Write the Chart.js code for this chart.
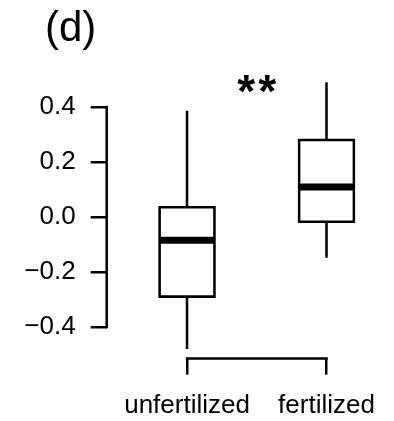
<!DOCTYPE html>
<html lang="en">
<head>
<meta charset="utf-8">
<script src="https://cdn.jsdelivr.net/npm/chart.js@4/dist/chart.umd.min.js"></script>
<style>
  html, body { margin: 0; padding: 0; background: #fff; }
  #wrap { width: 394px; height: 421px; position: relative; }
</style>
</head>
<body>
<div id="wrap"><canvas id="box"></canvas></div>
<script>
// groups and their five-number summaries
var groups = ["unfertilized", "fertilized"];
var groupPos = [1, 2];
var whiskerLow = [-0.480, -0.148];
var q1 = [-0.293, -0.021];
var median = [-0.085, 0.109];
var q3 = [0.039, 0.284];
var whiskerHigh = [0.386, 0.490];

var yTicks = [-0.4, -0.2, 0.0, 0.2, 0.4];
var yTickLabels = ["\u22120.4", "\u22120.2", "0.0", "0.2", "0.4"];
var panelTag = "(d)";
var signif = "**";

var FONT = "'Liberation Sans', Arial, Helvetica, sans-serif";
var BOX_W = 57;

// whiskers, medians, R-style axis lines and the annotations
var rStyle = {
  id: 'rStyle',
  afterDatasetsDraw: function(chart) {
    var ctx = chart.ctx;
    var xs = chart.scales.x, ys = chart.scales.y;
    ctx.save();
    ctx.strokeStyle = '#000';
    ctx.lineCap = 'butt';

    for (var i = 0; i < groups.length; i++) {
      var cx = xs.getPixelForValue(groupPos[i]);
      ctx.lineWidth = 2.5;
      ctx.beginPath();
      ctx.moveTo(cx, ys.getPixelForValue(q3[i]));
      ctx.lineTo(cx, ys.getPixelForValue(whiskerHigh[i]));
      ctx.moveTo(cx, ys.getPixelForValue(q1[i]));
      ctx.lineTo(cx, ys.getPixelForValue(whiskerLow[i]));
      ctx.stroke();

      var my = ys.getPixelForValue(median[i]);
      ctx.lineWidth = 7;
      ctx.beginPath();
      ctx.moveTo(cx - BOX_W / 2 + 1, my);
      ctx.lineTo(cx + BOX_W / 2 - 1, my);
      ctx.stroke();
    }

    // axis lines only span the ticks
    ctx.lineWidth = 2.5;
    ctx.lineCap = 'square';
    var left = chart.chartArea.left, bottom = chart.chartArea.bottom;
    ctx.beginPath();
    ctx.moveTo(left, ys.getPixelForValue(yTicks[0]));
    ctx.lineTo(left, ys.getPixelForValue(yTicks[yTicks.length - 1]));
    ctx.moveTo(xs.getPixelForValue(groupPos[0]), bottom);
    ctx.lineTo(xs.getPixelForValue(groupPos[groupPos.length - 1]), bottom);
    ctx.stroke();

    ctx.fillStyle = '#000';
    ctx.textAlign = 'left';
    ctx.textBaseline = 'alphabetic';
    ctx.font = '42px ' + FONT;
    ctx.fillText(panelTag, 45, 41);

    // the two stars sit a little apart, centred between the groups
    ctx.textAlign = 'center';
    ctx.font = 'bold 46px ' + FONT;
    var mid = xs.getPixelForValue(1.5);
    ctx.fillText(signif[0], mid - 10.5, 107);
    ctx.fillText(signif[1], mid + 10.5, 107);
    ctx.restore();
  }
};

var boxes = groups.map(function(g, i) {
  return { x: groupPos[i], y: [q1[i], q3[i]] };
});

new Chart(document.getElementById('box'), {
  type: 'bar',
  data: {
    datasets: [{
      data: boxes,
      backgroundColor: '#fff',
      borderColor: '#000',
      borderWidth: 2.7,
      borderSkipped: false,
      barThickness: BOX_W
    }]
  },
  options: {
    responsive: true,
    maintainAspectRatio: false,
    animation: false,
    events: [],
    layout: { padding: { top: 71.5, right: 0, left: 0, bottom: 0 } },
    plugins: { legend: { display: false }, tooltip: { enabled: false }, title: { display: false } },
    scales: {
      x: {
        type: 'linear',
        min: 0.424,
        max: 2.484,
        offset: false,
        afterBuildTicks: function(s) { s.ticks = groupPos.map(function(v) { return { value: v }; }); },
        afterFit: function(s) { s.height = 62.4; },
        border: { display: false },
        grid: { offset: false, drawOnChartArea: false, drawTicks: true, tickLength: 16, color: '#000', lineWidth: 2.5 },
        ticks: {
          autoSkip: false,
          maxRotation: 0,
          padding: 16,
          color: '#000',
          font: { family: FONT, size: 26 },
          callback: function(v, i) { return groups[i]; }
        }
      },
      y: {
        type: 'linear',
        min: -0.515,
        max: 0.529,
        afterBuildTicks: function(s) { s.ticks = yTicks.map(function(v) { return { value: v }; }); },
        afterFit: function(s) { s.width = 106.7; },
        border: { display: false },
        grid: { drawOnChartArea: false, drawTicks: true, tickLength: 16, color: '#000', lineWidth: 2.5 },
        ticks: {
          padding: 15,
          color: '#000',
          font: { family: FONT, size: 26 },
          callback: function(v, i) { return yTickLabels[i]; }
        }
      }
    }
  },
  plugins: [rStyle]
});
</script>
</body>
</html>
